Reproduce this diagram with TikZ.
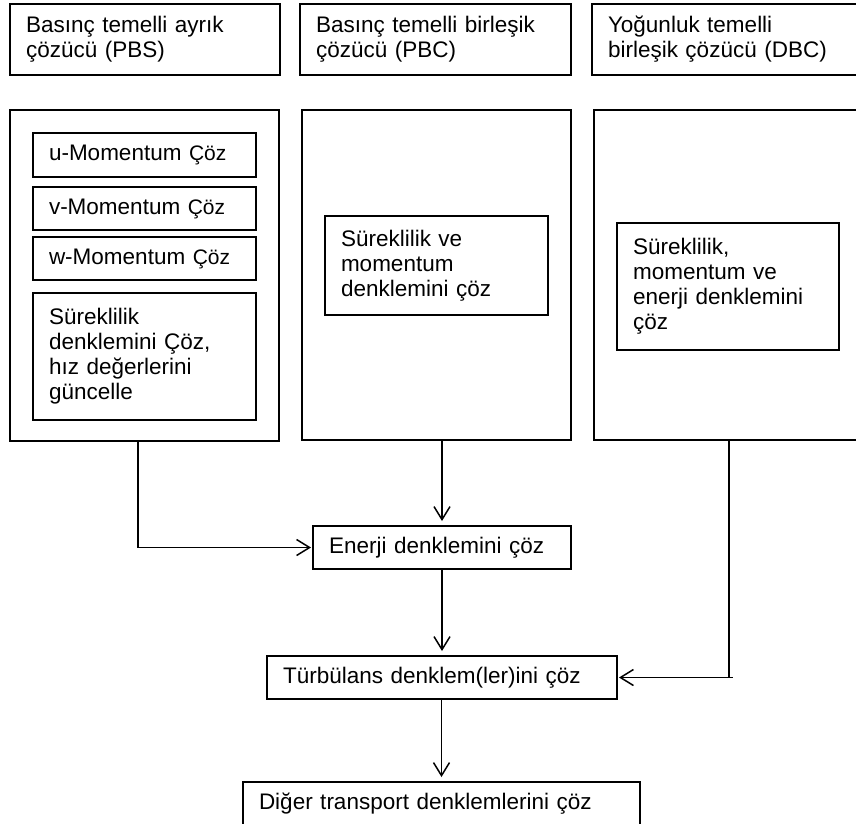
\documentclass[tikz,border=0pt]{standalone}
\usepackage{fontspec}
\setmainfont{Liberation Sans}
\usetikzlibrary{arrows.meta}
\newcommand{\smcoz}{{\fontsize{21}{25}\selectfont Çöz}}
\begin{document}
\begin{tikzpicture}[x=1pt,y=-1pt,
  box/.style={draw, line width=1.5pt, rectangle, anchor=north west, inner xsep=16pt, inner ysep=0pt, outer sep=0pt, align=left, font=\fontsize{22.5}{25}\selectfont},
  arr/.style={line width=1.5pt, -{Straight Barb[length=13pt,width=16pt,line width=1.5pt]}},
  ln/.style={line width=1.5pt}]
\useasboundingbox (0,0) rectangle (856,823);
\fill[white] (0,0) rectangle (856,823);
\clip (0,0) rectangle (856,823);
% headers
\node[box, text width=238pt, minimum height=71pt] (h1) at (10,4) {Basınç temelli ayrık\\çözücü (PBS)};
\node[box, text width=239pt, minimum height=71pt] (h2) at (300,4) {Basınç temelli birleşik\\çözücü (PBC)};
\node[box, text width=268pt, minimum height=71pt] (h3) at (592,4) {Yoğunluk temelli\\birleşik çözücü (DBC)};
% big boxes
\node[box, text width=237pt, minimum height=331pt] (b1) at (10,110) {};
\node[box, text width=237pt, minimum height=330pt] (b2) at (302,110) {};
\node[box, text width=268pt, minimum height=330pt] (b3) at (594,110) {};
% PBS inner boxes
\node[box, text width=191pt, minimum height=44pt] (u) at (33,133) {u-Momentum \smcoz};
\node[box, text width=191pt, minimum height=43pt] (v) at (33,187) {v-Momentum \smcoz};
\node[box, text width=191pt, minimum height=43pt] (w) at (33,237) {w-Momentum \smcoz};
\node[box, text width=191pt, minimum height=127pt] (s1) at (33,293) {Süreklilik\\denklemini Çöz,\\hız değerlerini\\güncelle};
% PBC inner box
\node[box, text width=191pt, minimum height=99pt] (s2) at (325,216) {Süreklilik ve\\momentum\\denklemini çöz};
% DBC inner box
\node[box, text width=190pt, minimum height=127pt] (s3) at (617,223) {Süreklilik,\\momentum ve\\enerji denklemini\\çöz};
% lower chain
\node[box, text width=226pt, minimum height=43pt] (en) at (313,526) {Enerji denklemini çöz};
\node[box, text width=318pt, minimum height=43pt] (tu) at (267,656) {Türbülans denklem(ler)ini çöz};
\node[box, text width=365pt, minimum height=43pt] (di) at (243,782) {Diğer transport denklemlerini çöz};
% connectors
\draw[arr, shorten >=2pt] ([xshift=128pt]b1.south west) |- (en.west);
\draw[arr, shorten >=5pt] (b2.south -| en.north) -- (en.north);
\draw[arr, shorten >=5pt] (en.south) -- (tu.north);
\draw[arr, shorten >=5pt] (tu.south -| di.north) -- (di.north);
\coordinate (dbcx) at ([xshift=135pt]b3.south west);
\coordinate (corner) at (dbcx |- tu.east);
\draw[arr, shorten >=2pt] (dbcx) |- (tu.east);
\draw[ln] (corner) -- ++(4,0);
\end{tikzpicture}
\end{document}
